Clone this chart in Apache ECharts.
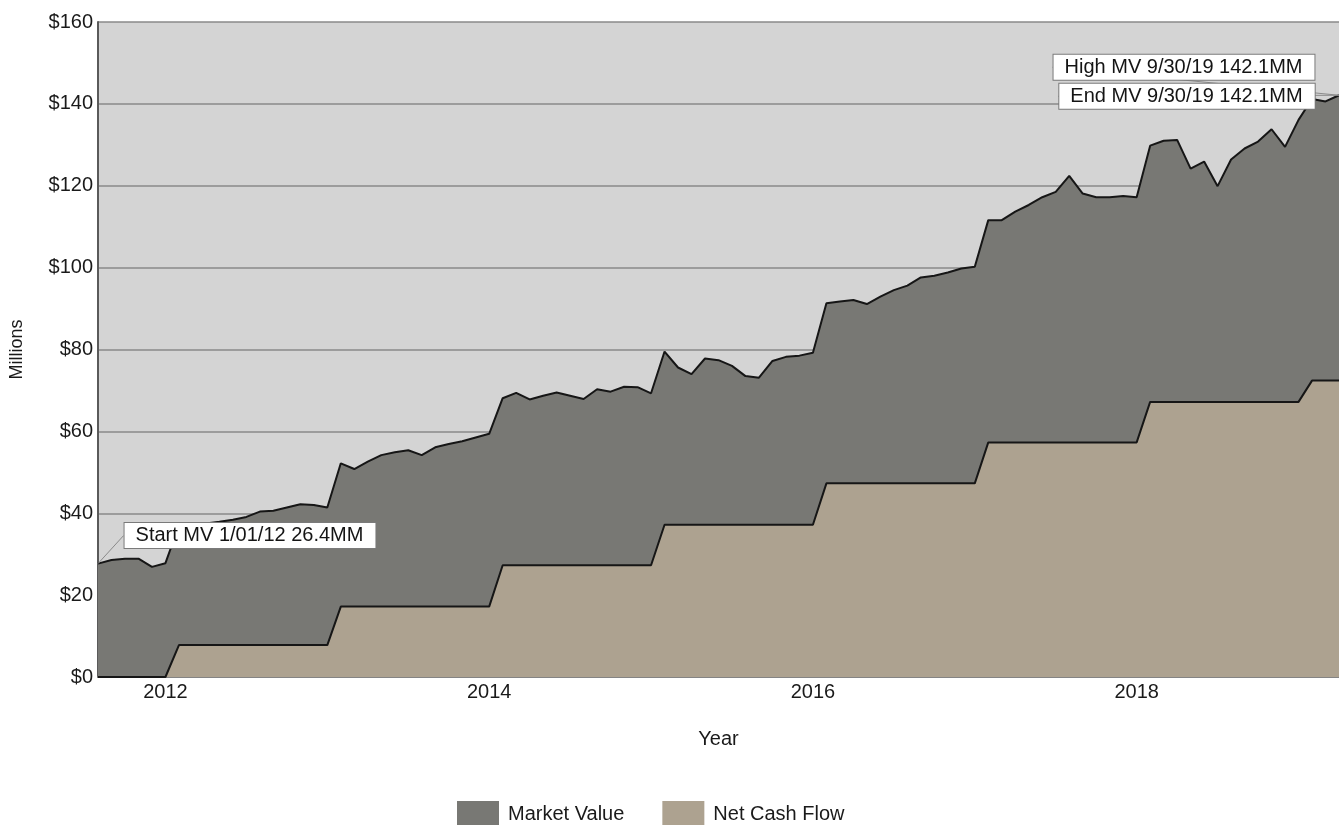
<!DOCTYPE html>
<html><head><meta charset="utf-8">
<script src="https://cdn.jsdelivr.net/npm/echarts@6/dist/echarts.min.js"></script>
<style>html,body{margin:0;padding:0;background:#fff}#c{width:1339px;height:825px}</style>
</head><body><div id="c"></div>
<script>
// Monthly values, Jan 2012 .. Sep 2019 (millions)
const marketValue = [
  27.7, 28.6, 28.9, 28.9, 26.9, 27.8, 37.0, 37.2, 37.5, 37.9, 38.4, 39.1,
  40.4, 40.6, 41.4, 42.2, 42.0, 41.4, 52.2, 50.8, 52.6, 54.2, 54.9, 55.4,
  54.2, 56.1, 56.9, 57.6, 58.5, 59.4, 68.1, 69.4, 67.8, 68.7, 69.5, 68.7,
  67.9, 70.3, 69.7, 70.9, 70.8, 69.3, 79.5, 75.6, 74.0, 77.8, 77.4, 76.0,
  73.5, 73.1, 77.2, 78.2, 78.5, 79.2, 91.3, 91.7, 92.1, 91.1, 92.9, 94.5,
  95.6, 97.6, 98.0, 98.8, 99.8, 100.2, 111.6, 111.6, 113.7, 115.3, 117.2, 118.5,
  122.4, 118.1, 117.2, 117.2, 117.5, 117.2, 129.8, 131.0, 131.2, 124.2, 125.9, 119.9,
  126.4, 129.1, 130.8, 133.8, 129.5, 136.1, 141.2, 140.6, 142.1
];
const netCashFlow = [
  0, 0, 0, 0, 0, 0, 7.8, 7.8, 7.8, 7.8, 7.8, 7.8,
  7.8, 7.8, 7.8, 7.8, 7.8, 7.8, 17.2, 17.2, 17.2, 17.2, 17.2, 17.2,
  17.2, 17.2, 17.2, 17.2, 17.2, 17.2, 27.3, 27.3, 27.3, 27.3, 27.3, 27.3,
  27.3, 27.3, 27.3, 27.3, 27.3, 27.3, 37.2, 37.2, 37.2, 37.2, 37.2, 37.2,
  37.2, 37.2, 37.2, 37.2, 37.2, 37.2, 47.3, 47.3, 47.3, 47.3, 47.3, 47.3,
  47.3, 47.3, 47.3, 47.3, 47.3, 47.3, 57.3, 57.3, 57.3, 57.3, 57.3, 57.3,
  57.3, 57.3, 57.3, 57.3, 57.3, 57.3, 67.2, 67.2, 67.2, 67.2, 67.2, 67.2,
  67.2, 67.2, 67.2, 67.2, 67.2, 67.2, 72.4, 72.4, 72.4
];
const startYear = 2012, startMonth = 1;
const tickYears = ['2012', '2014', '2016', '2018'];
const tickMonth = '06';
const seriesNames = ['Market Value', 'Net Cash Flow'];
const annotationTexts = ['Start MV 1/01/12 26.4MM', 'High MV 9/30/19 142.1MM', 'End MV 9/30/19 142.1MM'];
const annotationIndex = [0, 92, 92];

const months = [];
for (let i = 0; i < marketValue.length; i++) {
  const m = startMonth - 1 + i;
  const y = startYear + Math.floor(m / 12);
  const mm = String(m % 12 + 1).padStart(2, '0');
  months.push(y + '-' + mm);
}
const isTick = v => v.slice(5) === tickMonth && tickYears.indexOf(v.slice(0, 4)) >= 0;

const FONT = '"Liberation Sans", Arial, Helvetica, sans-serif';
const annotLayouts = [{dx: 152, dy: -28}, {dx: -155, dy: -28}, {dx: -152, dy: 1}];

const chart = echarts.init(document.getElementById('c'), null, {renderer: 'canvas'});
chart.setOption({
  animation: false,
  backgroundColor: '#ffffff',
  textStyle: {fontFamily: FONT},
  grid: {left: 98, right: 0, top: 22, bottom: 148, show: true, backgroundColor: '#d4d4d4', borderWidth: 0,
         containLabel: false, outerBoundsMode: 'none'},
  xAxis: {
    type: 'category', data: months, boundaryGap: false,
    name: 'Year', nameLocation: 'middle', nameGap: 52,
    nameTextStyle: {fontSize: 20, color: '#1a1a1a', fontFamily: FONT},
    axisLine: {show: true, lineStyle: {color: '#7a7a7a', width: 1.5}},
    axisTick: {show: false},
    axisLabel: {
      interval: (idx, v) => isTick(v),
      formatter: v => v.slice(0, 4),
      fontSize: 20, color: '#1a1a1a', margin: 5, fontFamily: FONT
    },
    splitLine: {show: false}
  },
  yAxis: {
    type: 'value', min: 0, max: 160, interval: 20,
    name: 'Millions', nameLocation: 'middle', nameGap: 72, nameRotate: 90,
    nameTextStyle: {fontSize: 18, color: '#1a1a1a', fontFamily: FONT},
    axisLine: {show: true, lineStyle: {color: '#5a5a5a', width: 2}},
    axisTick: {show: false},
    axisLabel: {formatter: v => '$' + v, fontSize: 20, color: '#1a1a1a', margin: 5, fontFamily: FONT},
    splitLine: {show: true, lineStyle: {color: '#8a8a8a', width: 1.6}}
  },
  legend: {
    data: seriesNames, left: 457, top: 801, padding: 0, icon: 'rect',
    itemWidth: 42, itemHeight: 26, itemGap: 38,
    textStyle: {fontSize: 20, color: '#1a1a1a', fontFamily: FONT, padding: [0, 0, 0, 4]},
    itemStyle: {borderWidth: 0},
    lineStyle: {width: 0}
  },
  series: [
    {
      name: seriesNames[0], type: 'line', data: marketValue, symbol: 'none',
      itemStyle: {color: '#787874'},
      lineStyle: {color: '#161616', width: 2},
      areaStyle: {color: '#787874', opacity: 1},
      z: 2
    },
    {
      name: seriesNames[1], type: 'line', data: netCashFlow, symbol: 'none',
      itemStyle: {color: '#ada290'},
      lineStyle: {color: '#161616', width: 2},
      areaStyle: {color: '#ada290', opacity: 1},
      z: 3
    },
    {
      name: 'annotations', type: 'scatter', symbolSize: 0, z: 5, silent: true,
      itemStyle: {opacity: 1},
      data: annotationTexts.map((t, i) => ({
        value: [months[annotationIndex[i]], marketValue[annotationIndex[i]]],
        label: {formatter: t}
      })),
      label: {
        show: true, position: 'inside', opacity: 1,
        fontSize: 20, color: '#141414', fontFamily: FONT,
        backgroundColor: '#ffffff', borderColor: '#7a7a7a', borderWidth: 1,
        padding: [3, 12, 2, 11]
      },
      labelLayout: p => annotLayouts[p.dataIndex],
      labelLine: {show: true, lineStyle: {color: '#8a8a8a', width: 1, opacity: 1}}
    }
  ]
});
</script>
</body></html>
